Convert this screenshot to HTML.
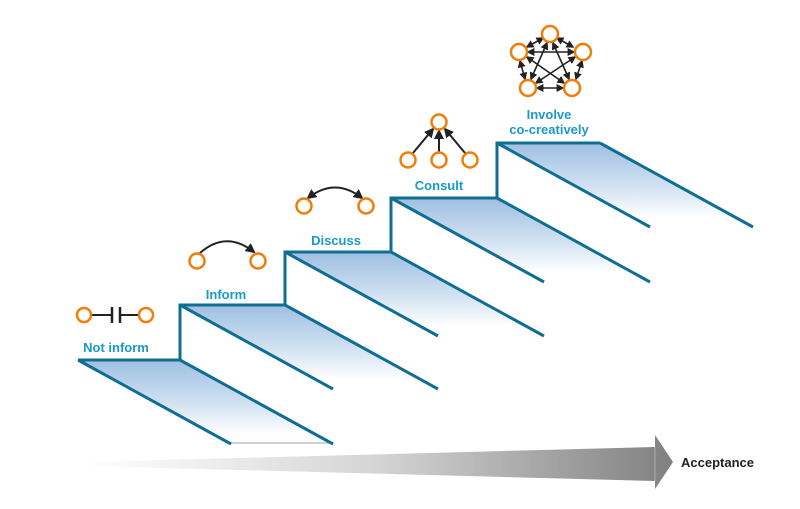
<!DOCTYPE html>
<html><head><meta charset="utf-8"><style>
html,body{margin:0;padding:0;background:#fff;width:800px;height:509px;overflow:hidden}
text{font-family:"Liberation Sans",sans-serif}
</style></head><body>
<svg width="800" height="509" viewBox="0 0 800 509" xmlns="http://www.w3.org/2000/svg">
<defs>
<linearGradient id="tg" x1="0" y1="0" x2="0" y2="1">
<stop offset="0" stop-color="#9fbfe2"/><stop offset="0.5" stop-color="#cfe0f1"/><stop offset="0.9" stop-color="#ffffff"/>
</linearGradient>
<linearGradient id="ag" x1="0" y1="0" x2="1" y2="0">
<stop offset="0" stop-color="#ffffff"/><stop offset="0.5" stop-color="#d4d4d4"/><stop offset="1" stop-color="#808080"/>
</linearGradient>
<marker id="ah" viewBox="0 0 10 10" refX="8" refY="5" markerWidth="5" markerHeight="5" orient="auto-start-reverse">
<path d="M0,0 L10,5 L0,10 z" fill="#222"/></marker>
</defs>
<polygon points="86,462 655,447 655,435 673,462 655,489 655,481 86,466" fill="url(#ag)"/>
<line x1="655" y1="447" x2="655" y2="481" stroke="#aaa" stroke-width="1"/>
<text x="681" y="467" font-size="13" font-weight="bold" fill="#222">Acceptance</text>
<g stroke="#0f6e92" stroke-width="3" stroke-linejoin="miter">
<polygon points="78,360 180,360 332,443 230,443" fill="url(#tg)" stroke="none"/>
<polygon points="180,305 285,305 437,388 332,388" fill="url(#tg)" stroke="none"/>
<polygon points="285,252 391,252 543,335 437,335" fill="url(#tg)" stroke="none"/>
<polygon points="391,198 497,198 649,281 543,281" fill="url(#tg)" stroke="none"/>
<polygon points="497,143 600,143 752,226 649,226" fill="url(#tg)" stroke="none"/>
<line x1="230" y1="443" x2="332" y2="443" stroke="#b8c4d0" stroke-width="1.5"/>
<polyline fill="none" points="78,360 180,360 180,305 285,305 285,252 391,252 391,198 497,198 497,143 600,143"/>
<line x1="78" y1="360" x2="231" y2="444"/><line x1="180" y1="360" x2="333" y2="444"/>
<line x1="180" y1="305" x2="333" y2="389"/><line x1="285" y1="305" x2="438" y2="389"/>
<line x1="285" y1="252" x2="438" y2="336"/><line x1="391" y1="252" x2="544" y2="336"/>
<line x1="391" y1="198" x2="544" y2="282"/><line x1="497" y1="198" x2="650" y2="282"/>
<line x1="497" y1="143" x2="650" y2="227"/><line x1="600" y1="143" x2="753" y2="227"/>
</g>
<g fill="#1a9ac8" font-size="13" font-weight="bold" text-anchor="middle">
<text x="116" y="352">Not inform</text>
<text x="226" y="299">Inform</text>
<text x="336" y="245">Discuss</text>
<text x="439" y="190">Consult</text>
<text x="549" y="119">Involve</text>
<text x="549" y="134">co-creatively</text>
</g>
<g stroke="#222" stroke-width="2" fill="none">
<line x1="91" y1="315" x2="112" y2="315"/><line x1="120" y1="315" x2="139" y2="315"/>
<line x1="112" y1="307" x2="112" y2="323" stroke-width="2.5"/><line x1="120" y1="307" x2="120" y2="323" stroke-width="2.5"/>
<path d="M200,253 Q226,230 254,252" marker-end="url(#ah)"/>
<path d="M308,198 Q335,177 362,198" marker-end="url(#ah)" marker-start="url(#ah)"/>
<line x1="413" y1="153" x2="433" y2="129" marker-end="url(#ah)"/>
<line x1="439" y1="152" x2="439" y2="131" marker-end="url(#ah)"/>
<line x1="465" y1="153" x2="445" y2="129" marker-end="url(#ah)"/>
<g marker-end="url(#ah)" marker-start="url(#ah)" stroke-width="1.6">
<line x1="543" y1="38" x2="527" y2="47"/><line x1="557" y1="38" x2="573" y2="47"/>
<line x1="528" y1="52" x2="574" y2="52"/>
<line x1="520" y1="61" x2="525" y2="79"/><line x1="582" y1="61" x2="576" y2="79"/>
<line x1="537" y1="88" x2="563" y2="88"/>
<line x1="547" y1="43" x2="531" y2="79"/><line x1="553" y1="43" x2="569" y2="79"/>
<line x1="527" y1="57" x2="564" y2="83"/><line x1="575" y1="57" x2="536" y2="83"/>
</g>
</g>
<g fill="#fff" stroke="#f07d0a" stroke-width="2.5">
<circle cx="84" cy="315" r="7"/><circle cx="146" cy="315" r="7"/>
<circle cx="197" cy="261" r="7.5"/><circle cx="258" cy="261" r="7.5"/>
<circle cx="304" cy="206" r="7.5"/><circle cx="366" cy="206" r="7.5"/>
<circle cx="439" cy="122" r="7.5"/><circle cx="408" cy="160" r="7.5"/><circle cx="439" cy="160" r="7.5"/><circle cx="470" cy="160" r="7.5"/>
<circle cx="550" cy="34" r="8"/><circle cx="519" cy="52" r="8"/><circle cx="583" cy="52" r="8"/><circle cx="528" cy="88" r="8"/><circle cx="572" cy="88" r="8"/>
</g>
</svg>
</body></html>
